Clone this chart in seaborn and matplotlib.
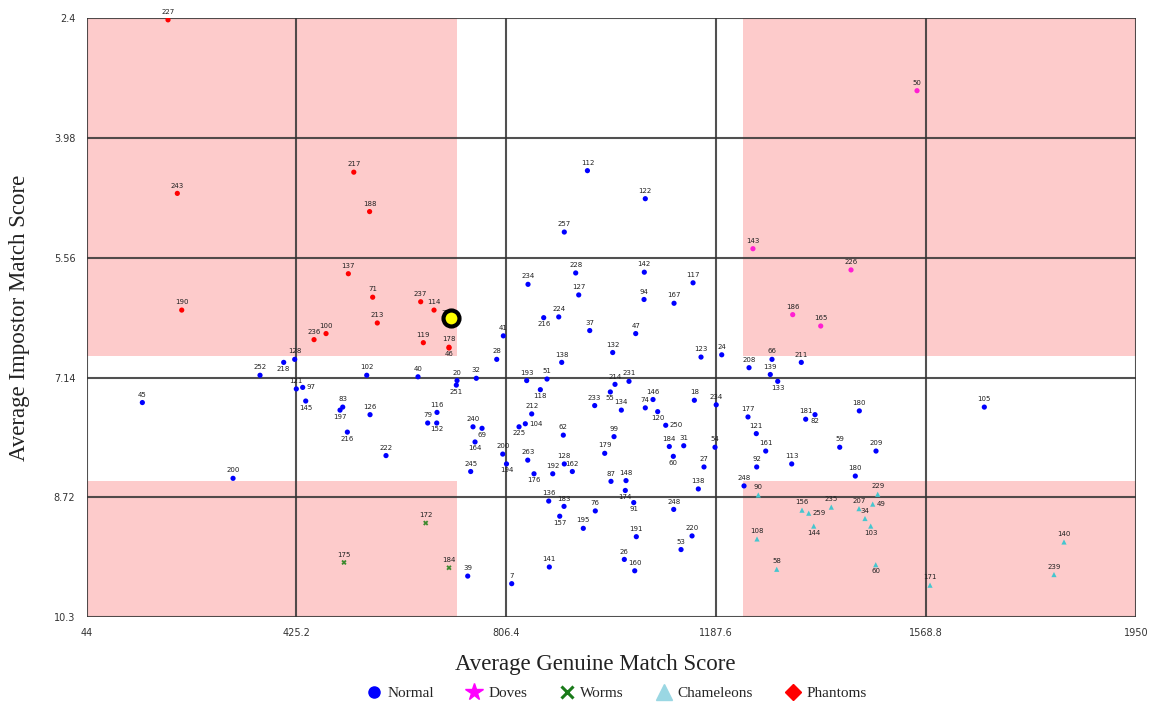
import matplotlib
matplotlib.use("Agg")
import matplotlib.pyplot as plt
from matplotlib.lines import Line2D
from matplotlib.patches import Rectangle
import seaborn as sns
import pandas as pd

# ---------------- data ----------------
normal_ids = ["45", "252", "218", "128", "121", "97", "145", "83", "197", "216",
              "102", "126", "222", "40", "116", "79", "152", "20", "251", "32",
              "240", "69", "164", "245", "39", "41", "28", "200", "194", "7",
              "225", "104", "193", "263", "234", "212", "176", "118", "216", "51",
              "136", "141", "192", "224", "157", "138", "62", "183", "128", "257",
              "162", "228", "127", "195", "112", "37", "233", "76", "179", "55",
              "87", "132", "99", "214", "134", "26", "174", "148", "231", "91",
              "160", "47", "191", "142", "94", "122", "74", "146", "120", "250",
              "184", "60", "248", "167", "53", "31", "220", "117", "18", "138",
              "123", "27", "54", "234", "24", "248", "177", "208", "121", "92",
              "161", "139", "66", "133", "113", "211", "181", "82", "59", "180",
              "180", "209", "105", "200"]
normal_x = [145.4, 359.1, 402.1, 422.1, 425.0, 436.6, 442.1, 509.3, 504.4, 517.7,
            552.9, 558.9, 587.9, 646.0, 680.5, 663.6, 680.0, 716.9, 715.6, 751.9,
            745.9, 762.3, 749.6, 741.7, 736.3, 801.0, 789.0, 799.9, 806.7, 816.2,
            829.5, 840.9, 843.4, 845.3, 845.8, 852.5, 856.7, 868.2, 874.3, 880.3,
            883.4, 884.5, 890.7, 901.6, 903.4, 907.0, 909.9, 911.2, 911.7, 911.7,
            926.3, 932.4, 937.9, 946.2, 953.7, 957.9, 966.9, 968.0, 985.1, 995.3,
            996.5, 999.6, 1002.0, 1003.8, 1015.3, 1020.7, 1022.5, 1023.8, 1029.2, 1037.8,
            1039.6, 1041.4, 1042.5, 1057.0, 1056.5, 1058.8, 1058.8, 1072.8, 1081.3, 1095.9,
            1102.4, 1109.7, 1110.4, 1111.0, 1123.7, 1128.6, 1143.7, 1145.5, 1147.9, 1155.1,
            1160.0, 1165.4, 1185.4, 1187.6, 1197.6, 1238.1, 1245.3, 1247.2, 1260.4, 1261.1,
            1277.5, 1285.8, 1288.9, 1299.3, 1324.7, 1342.1, 1350.1, 1367.0, 1411.9, 1440.2,
            1447.5, 1477.8, 1674.5, 310.1]
normal_y = [7.47, 7.11, 6.94, 6.90, 7.29, 7.27, 7.45, 7.53, 7.57, 7.86,
            7.11, 7.63, 8.17, 7.13, 7.60, 7.74, 7.74, 7.18, 7.24, 7.15,
            7.79, 7.81, 7.99, 8.38, 9.76, 6.59, 6.90, 8.15, 8.28, 9.86,
            7.79, 7.75, 7.18, 8.23, 5.91, 7.62, 8.41, 7.30, 6.35, 7.16,
            8.77, 9.64, 8.41, 6.34, 8.97, 6.94, 7.90, 8.84, 8.28, 5.22,
            8.38, 5.76, 6.05, 9.13, 4.41, 6.52, 7.51, 8.90, 8.14, 7.33,
            8.51, 6.81, 7.92, 7.23, 7.57, 9.54, 8.63, 8.50, 7.19, 8.79,
            9.69, 6.56, 9.24, 5.75, 6.11, 4.78, 7.54, 7.43, 7.59, 7.77,
            8.05, 8.18, 8.88, 6.16, 9.41, 8.04, 9.23, 5.89, 7.44, 8.61,
            6.87, 8.32, 8.06, 7.50, 6.84, 8.57, 7.66, 7.01, 7.88, 8.32,
            8.11, 7.10, 6.90, 7.19, 8.28, 6.94, 7.69, 7.63, 8.06, 8.44,
            7.58, 8.11, 7.53, 8.47]

doves_ids = ["50", "143", "226", "186", "165"]
doves_x = [1552.3, 1254.3, 1432.4, 1326.5, 1377.4]
doves_y = [3.355, 5.44, 5.72, 6.31, 6.46]

worms_ids = ["172", "175", "184"]
worms_x = [660.0, 511.6, 702.3]
worms_y = [9.06, 9.58, 9.65]

cham_ids = ["90", "156", "259", "144", "235", "207", "34", "49", "229", "103",
            "108", "58", "60", "171", "140", "239"]
cham_x = [1264.0, 1343.4, 1355.6, 1364.7, 1396.6, 1446.9, 1457.8, 1471.8, 1480.9, 1468.2,
          1261.7, 1297.5, 1477.3, 1575.9, 1819.2, 1801.0]
cham_y = [8.69, 8.89, 8.93, 9.10, 8.85, 8.87, 9.00, 8.81, 8.68, 9.10,
          9.27, 9.67, 9.61, 9.88, 9.31, 9.74]

phantom_ids = ["227", "243", "217", "188", "137", "71", "237", "114", "73", "213",
               "100", "236", "119", "178", "46", "190"]
phantom_x = [192.0, 208.9, 529.4, 558.1, 519.5, 563.7, 650.9, 675.1, 696.9, 572.1,
             479.0, 457.2, 655.7, 702.3, 702.3, 216.9]
phantom_y = [2.42, 4.71, 4.43, 4.95, 5.77, 6.08, 6.14, 6.25, 6.39, 6.42,
             6.56, 6.64, 6.68, 6.74, 6.75, 6.25]

highlight_x = [705.4]
highlight_y = [6.35]

# zoo thresholds (shaded regions)
genuine_low, genuine_high = 716.9, 1236.6
impostor_low, impostor_high = 6.856, 8.50

x_ticks = [44, 425.2, 806.4, 1187.6, 1568.8, 1950]
x_tick_labels = ["44", "425.2", "806.4", "1187.6", "1568.8", "1950"]
y_ticks = [2.4, 3.98, 5.56, 7.14, 8.72, 10.3]
y_tick_labels = ["2.4", "3.98", "5.56", "7.14", "8.72", "10.3"]

categories = ["Normal", "Doves", "Worms", "Chameleons", "Phantoms"]

# label placement (ids whose label is drawn below / to the right of the point)
label_below = {"218", "145", "197", "152", "69", "251", "118", "55", "120", "225",
               "60", "176", "174", "91", "157", "133", "82", "144", "103", "164",
               "194", "46", "216"}
label_right = {"104", "259", "49", "97", "250"}

# ---------------- build frame ----------------
frames = []
for cat, ids, xs, ys in [("Normal", normal_ids, normal_x, normal_y),
                         ("Doves", doves_ids, doves_x, doves_y),
                         ("Worms", worms_ids, worms_x, worms_y),
                         ("Chameleons", cham_ids, cham_x, cham_y),
                         ("Phantoms", phantom_ids, phantom_x, phantom_y)]:
    frames.append(pd.DataFrame({"id": ids, "genuine": xs, "impostor": ys, "type": cat}))
df = pd.concat(frames, ignore_index=True)

palette = {"Normal": "#0000ff", "Doves": "#ff1fd2", "Worms": "#3d8a2e",
           "Chameleons": "#45c6cf", "Phantoms": "#ff0000"}
markers = {"Normal": "o", "Doves": "o", "Worms": "X", "Chameleons": "^", "Phantoms": "o"}

sns.set_style("white")
plt.rcParams["font.family"] = ["DejaVu Sans"]

fig = plt.figure(figsize=(11.49, 7.05), dpi=100)
ax = fig.add_axes([0.0753, 0.1248, 0.9134, 0.8492])

# shaded zoo regions
shade = "#fdcbcb"
xmin, xmax = x_ticks[0], x_ticks[-1]
ymin, ymax = y_ticks[0], y_ticks[-1]
for (x0, x1, y0, y1) in [(xmin, genuine_low, ymin, impostor_low),
                         (genuine_high, xmax, ymin, impostor_low),
                         (xmin, genuine_low, impostor_high, ymax),
                         (genuine_high, xmax, impostor_high, ymax)]:
    ax.add_patch(Rectangle((x0, y0), x1 - x0, y1 - y0, facecolor=shade,
                           edgecolor="none", zorder=0))

# grid lines
for xv in x_ticks:
    ax.axvline(xv, color="#333333", lw=1.5, alpha=0.85, zorder=1)
for yv in y_ticks:
    ax.axhline(yv, color="#333333", lw=1.5, alpha=0.85, zorder=1)

sns.scatterplot(data=df, x="genuine", y="impostor", hue="type", style="type",
                palette=palette, markers=markers, s=14, linewidth=0,
                legend=False, ax=ax, zorder=3)

for _, r in df.iterrows():
    if r["id"] in label_below:
        off, ha, va = (0, -2.5), "center", "top"
    elif r["id"] in label_right:
        off, ha, va = (3, 0), "left", "center"
    else:
        off, ha, va = (0, 3.5), "center", "bottom"
    ax.annotate(r["id"], (r["genuine"], r["impostor"]), xytext=off,
                textcoords="offset points", ha=ha, va=va, fontsize=5,
                color="#222222", zorder=4)

ax.plot(highlight_x, highlight_y, marker="o", markersize=11.5, markerfacecolor="#ffff00",
        markeredgecolor="black", markeredgewidth=3, linestyle="none", zorder=6)

ax.set_xlim(xmin, xmax)
ax.set_ylim(ymax, ymin)
ax.set_xticks(x_ticks)
ax.set_xticklabels(x_tick_labels)
ax.set_yticks(y_ticks)
ax.set_yticklabels(y_tick_labels)
ax.tick_params(axis="both", length=4, width=1, color="#555555", labelsize=7,
               labelcolor="#333333", pad=4)
for s in ax.spines.values():
    s.set_visible(False)

serif = ["Liberation Serif", "DejaVu Serif"]
ax.set_xlabel("Average Genuine Match Score", fontsize=16.5, family=serif,
              color="#222222", labelpad=11)
ax.xaxis.set_label_coords(0.4845, -0.062)
ax.set_ylabel("Average Impostor Match Score", fontsize=16.5, family=serif,
              color="#222222", labelpad=17)

handles = [
    Line2D([], [], marker="o", color="none", markerfacecolor="#0000ff",
           markeredgecolor="#0000ff", markersize=8),
    Line2D([], [], marker="*", color="none", markerfacecolor="#ff00ff",
           markeredgecolor="#ff00ff", markersize=13),
    Line2D([], [], marker="x", color="none", markeredgecolor="#1a7a1a",
           markeredgewidth=2.2, markersize=9),
    Line2D([], [], marker="^", color="none", markerfacecolor="#9ad7e3",
           markeredgecolor="#9ad7e3", markersize=11),
    Line2D([], [], marker="D", color="none", markerfacecolor="#ff0000",
           markeredgecolor="#ff0000", markersize=8),
]
fig.legend(handles, categories, loc="center", bbox_to_anchor=(0.536, 0.017),
           ncol=5, frameon=False, prop={"family": serif, "size": 11},
           handletextpad=0.3, columnspacing=2.0, handlelength=1.2)

fig.savefig("out.png", dpi=100)
